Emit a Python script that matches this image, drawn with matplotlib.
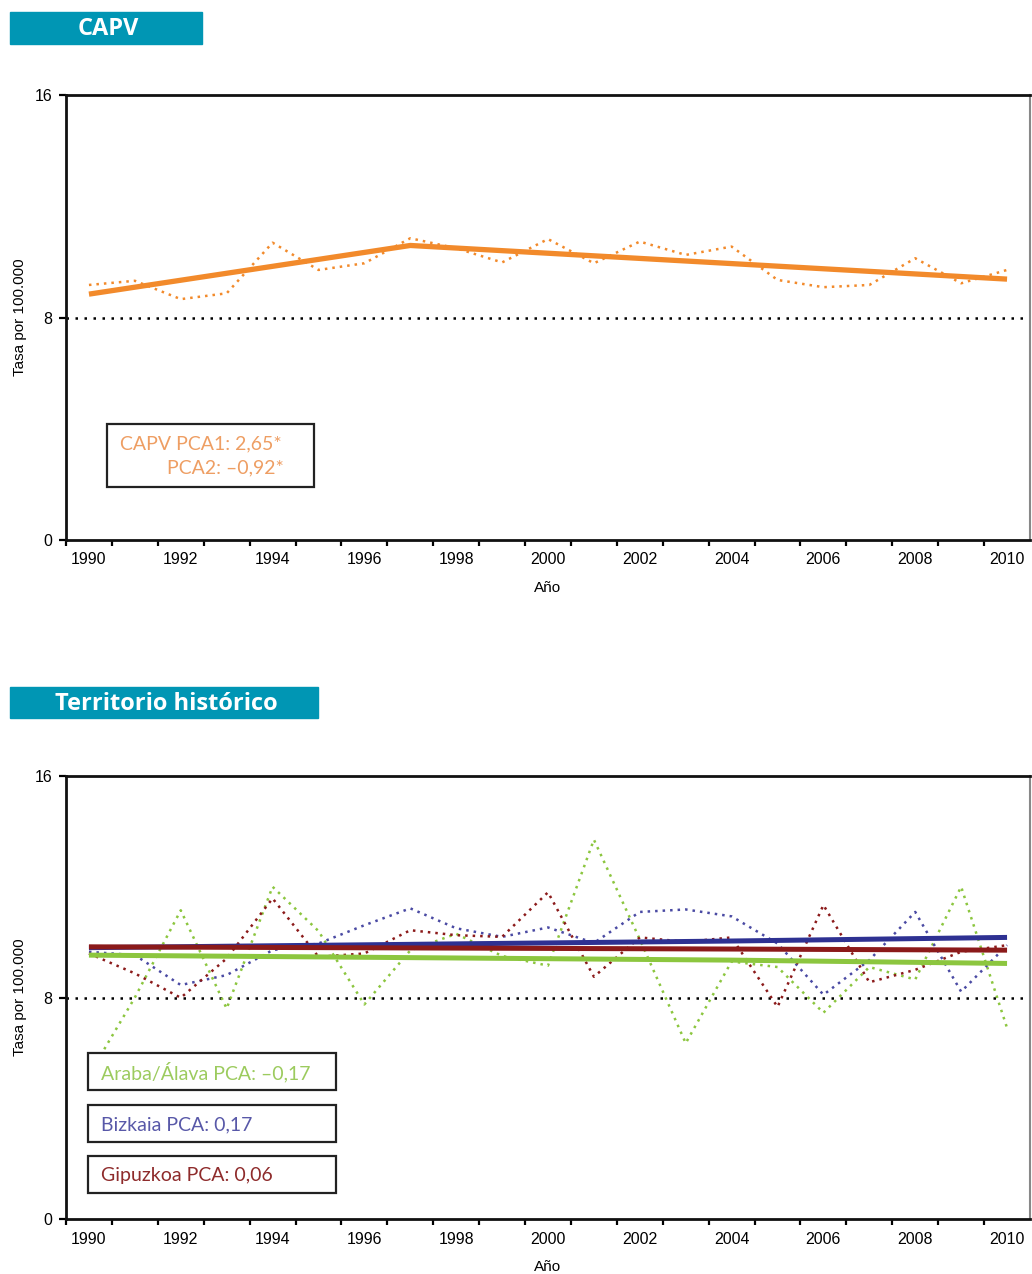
import matplotlib
matplotlib.use("Agg")
import matplotlib.pyplot as plt
from matplotlib.patches import Rectangle

W, H = 1032, 1274

# --- data -----------------------------------------------------------------
years = list(range(1990, 2011))

# CAPV observed rate (dotted) and joinpoint trend (solid)
capv_obs = [9.17, 9.32, 8.66, 8.87, 10.69, 9.71, 9.95, 10.85, 10.49, 9.98, 10.82,
            9.95, 10.73, 10.25, 10.55, 9.35, 9.09, 9.17, 10.13, 9.23, 9.71]
capv_trend_years = [1990, 1997, 2010]
capv_trend = [8.84, 10.59, 9.38]

# territorios historicos, observed rates
araba_obs = [5.2, 8.0, 11.15, 7.6, 12.0, 10.4, 7.75, 9.7, 10.3, 9.5, 9.15,
             13.7, 10.1, 6.35, 9.3, 9.1, 7.45, 9.1, 8.65, 12.0, 6.9]
bizkaia_obs = [9.65, 9.53, 8.45, 8.81, 9.71, 9.95, 10.61, 11.22, 10.5, 10.19, 10.53,
               9.97, 11.09, 11.18, 10.93, 9.95, 8.1, 9.35, 11.09, 8.21, 9.89]
gipuzkoa_obs = [9.59, 8.87, 7.99, 9.41, 11.58, 9.47, 9.59, 10.43, 10.25, 10.19, 11.8,
                8.75, 10.17, 10.01, 10.17, 7.66, 11.34, 8.55, 9.0, 9.65, 9.89]

# trends
trend_years = [1990, 2004, 2010]
araba_trend = [9.53, 9.35, 9.23]
bizkaia_trend = [9.8, 10.04, 10.17]
gipuzkoa_trend = [9.83, 9.75, 9.71]

ref_rate = 8
x_labels = list(range(1990, 2011, 2))

ORANGE = "#F28A2B"
ORANGE_TXT = "#EE9E63"
GREEN = "#8CC63F"
GREEN_TXT = "#9CCB5E"
BLUE = "#2E3192"
BLUE_DOT = "#4A4AA3"
BLUE_TXT = "#5858A8"
MAROON = "#8B1A1A"
MAROON_TXT = "#8E2B2B"
TEAL = "#0096B4"

DOT = (0, (1.0, 2.0))


def fx(x):
    return x / W


def fy(y):
    return 1 - y / H


def setup_axes(ax, top_px, bottom_px):
    ax.set_xlim(1989.5, 2010.5)
    ax.set_ylim(0, 16)
    ax.set_yticks([0, 8, 16])
    ax.set_yticklabels(["0", "8", "16"])
    ax.set_xticks(x_labels)
    ax.set_xticklabels([str(y) for y in x_labels])
    ax.set_xticks([y - 0.5 for y in years], minor=True)
    ax.tick_params(axis="x", which="major", length=0, pad=9,
                   labelsize=11.5, labelfontfamily="Liberation Sans")
    ax.tick_params(axis="x", which="minor", length=4, width=1.6, direction="out")
    ax.tick_params(axis="y", which="major", length=5, width=1.6, direction="out",
                   pad=5, labelsize=11.5, labelfontfamily="Liberation Sans")
    for s in ["left", "bottom", "top"]:
        ax.spines[s].set_linewidth(2)
        ax.spines[s].set_color("#111111")
    ax.spines["right"].set_linewidth(1.5)
    ax.spines["right"].set_color("#888888")
    ax.axhline(ref_rate, color="black", lw=1.8, ls=(0, (1.0, 2.6)), zorder=1)
    # y label and x label
    mid = (top_px + bottom_px) / 2
    fig.text(fx(20), fy(mid), "Tasa por 100.000", rotation=90, ha="center",
             va="center", fontsize=11, family="Liberation Sans")
    fig.text(fx(548), fy(bottom_px + 48), "Año", ha="center", va="center",
             fontsize=11, family="Liberation Sans")


def header(x0, x1, y0, y1, text):
    fig.patches.append(Rectangle((fx(x0), fy(y1)), fx(x1 - x0), (y1 - y0) / H,
                                 transform=fig.transFigure, color=TEAL, zorder=0))
    fig.text(fx((x0 + x1) / 2 + 2), fy((y0 + y1) / 2 + 1), text, ha="center",
             va="center", color="white", fontsize=17, fontweight="bold",
             family="Open Sans")


def box(x0, x1, y0, y1):
    fig.patches.append(Rectangle((fx(x0), fy(y1)), fx(x1 - x0), (y1 - y0) / H,
                                 transform=fig.transFigure, facecolor="white",
                                 edgecolor="#222222", lw=1.6, zorder=5))


fig = plt.figure(figsize=(W / 100, H / 100), dpi=100)

# --- CAPV -----------------------------------------------------------------
header(10, 202, 12, 44, "CAPV")
ax1 = fig.add_axes([fx(66), fy(540), fx(1030 - 66), 445 / H])
setup_axes(ax1, 95, 540)
ax1.plot(years, capv_obs, color=ORANGE, lw=1.8, ls=DOT, zorder=2)
ax1.plot(capv_trend_years, capv_trend, color=ORANGE, lw=3.8, zorder=3,
         solid_capstyle="butt")

box(107, 314, 424, 487)
fig.text(fx(120), fy(444), "CAPV PCA1: 2,65*", color=ORANGE_TXT, fontsize=14,
         family="Lato", va="center", ha="left", zorder=6)
fig.text(fx(167), fy(468), "PCA2: \u20130,92*", color=ORANGE_TXT, fontsize=14,
         family="Lato", va="center", ha="left", zorder=6)

# --- Territorio historico ---------------------------------------------------
header(10, 318, 687, 718, "Territorio histórico")
ax2 = fig.add_axes([fx(66), fy(1219), fx(1030 - 66), 443 / H])
setup_axes(ax2, 776, 1219)
ax2.plot(years, araba_obs, color=GREEN, lw=1.8, ls=DOT, zorder=2)
ax2.plot(years, bizkaia_obs, color=BLUE_DOT, lw=1.8, ls=DOT, zorder=2)
ax2.plot(years, gipuzkoa_obs, color=MAROON, lw=1.8, ls=DOT, zorder=2)
ax2.plot(trend_years, araba_trend, color=GREEN, lw=3.6, zorder=3,
         solid_capstyle="butt")
ax2.plot(trend_years, bizkaia_trend, color=BLUE, lw=3.6, zorder=3,
         solid_capstyle="butt")
ax2.plot(trend_years, gipuzkoa_trend, color=MAROON, lw=3.6, zorder=4,
         solid_capstyle="butt")

box_rows = [(1053, 1090, "Araba/Álava PCA: \u20130,17", GREEN_TXT),
            (1105, 1142, "Bizkaia PCA: 0,17", BLUE_TXT),
            (1156, 1193, "Gipuzkoa PCA: 0,06", MAROON_TXT)]
for y0, y1, txt, col in box_rows:
    box(88, 336, y0, y1)
    fig.text(fx(101), fy((y0 + y1) / 2 + 1), txt, color=col, fontsize=14,
             family="Lato", va="center", ha="left", zorder=6)

fig.savefig("out.png", dpi=100)
